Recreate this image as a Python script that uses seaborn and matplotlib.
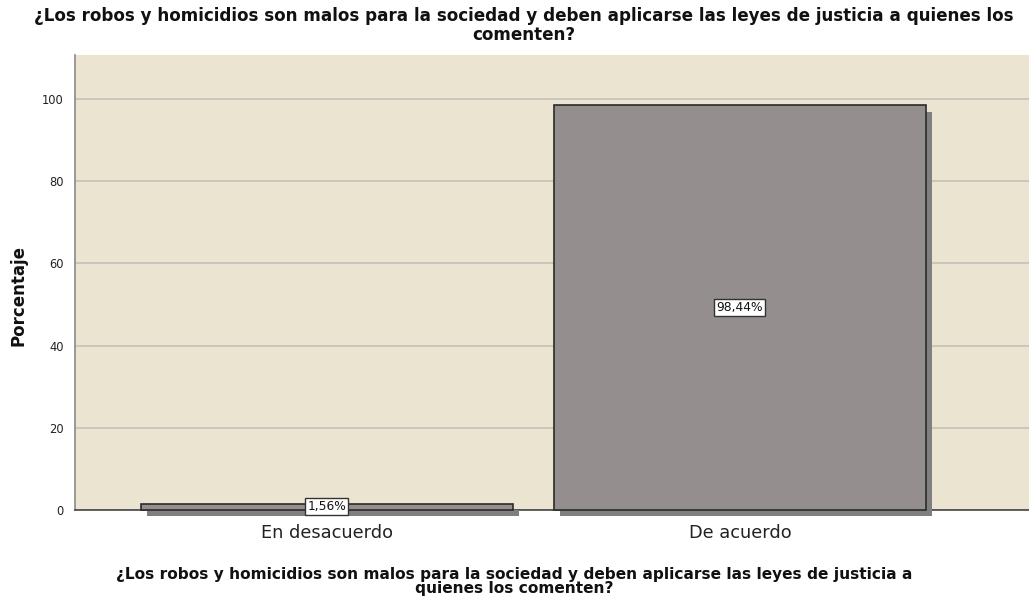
import matplotlib
matplotlib.use("Agg")
import matplotlib.pyplot as plt
import matplotlib.patheffects as pe
import pandas as pd
import seaborn as sns

categorias = ["En desacuerdo", "De acuerdo"]
porcentajes = [1.56, 98.44]
etiquetas = ["1,56%", "98,44%"]

pregunta = ("¿Los robos y homicidios son malos para la sociedad y deben aplicarse "
            "las leyes de justicia a quienes los\ncomenten?")
pregunta_x = ("¿Los robos y homicidios son malos para la sociedad y deben aplicarse "
              "las leyes de justicia a\nquienes los comenten?")

df = pd.DataFrame({"cat": categorias, "pct": porcentajes})

sns.set_style("white")
plt.rcParams["font.family"] = ["DejaVu Sans"]

fig = plt.figure(figsize=(10.29, 6), dpi=100)
ax = fig.add_axes([75 / 1029, 90 / 600, 954 / 1029, 455 / 600])
ax.set_facecolor("#ebe4d0")

sns.barplot(data=df, x="cat", y="pct", ax=ax, color="#948f8e", width=0.9,
            saturation=1, edgecolor="#2b2b2b", linewidth=1.2, zorder=3)

for p in ax.patches:
    p.set_clip_on(False)
    p.set_path_effects([pe.SimplePatchShadow(offset=(4.5, -4.5),
                                             shadow_rgbFace="#7f7f7f", alpha=1.0),
                        pe.Normal()])

for i, (v, t) in enumerate(zip(porcentajes, etiquetas)):
    ax.text(i, v / 2, t, ha="center", va="center", fontsize=8.8, zorder=5,
            color="#111111",
            bbox=dict(boxstyle="square,pad=0.18", fc="white", ec="#333333", lw=1))

ax.set_ylim(0, 110.7)
ax.set_xlim(-0.61, 1.70)
ax.set_yticks([0, 20, 40, 60, 80, 100])
ax.yaxis.grid(True, color="#c4c1b8", linewidth=1.2, zorder=0)
ax.set_axisbelow(True)
ax.tick_params(axis="y", labelsize=8.3, length=0, pad=8, labelcolor="#222222")
ax.tick_params(axis="x", labelsize=12.8, length=0, pad=10, labelcolor="#222222")

for s in ["top", "right"]:
    ax.spines[s].set_visible(False)
ax.spines["left"].set_color("#8a8a8a")
ax.spines["left"].set_linewidth(1.2)
ax.spines["bottom"].set_color("#444444")
ax.spines["bottom"].set_linewidth(1.2)

ax.set_ylabel("Porcentaje", fontsize=12, fontweight="bold", color="#111111")
ax.yaxis.set_label_coords(-0.05, 0.4725)
ax.set_xlabel(pregunta_x, fontsize=11.1, fontweight="bold",
              linespacing=0.95, color="#111111")
ax.xaxis.set_label_coords(0.4607, -0.125)
fig.suptitle(pregunta, fontsize=12.1, fontweight="bold", x=0.509, y=0.988,
             linespacing=1.05, color="#111111")

fig.savefig("out.png", dpi=100)
